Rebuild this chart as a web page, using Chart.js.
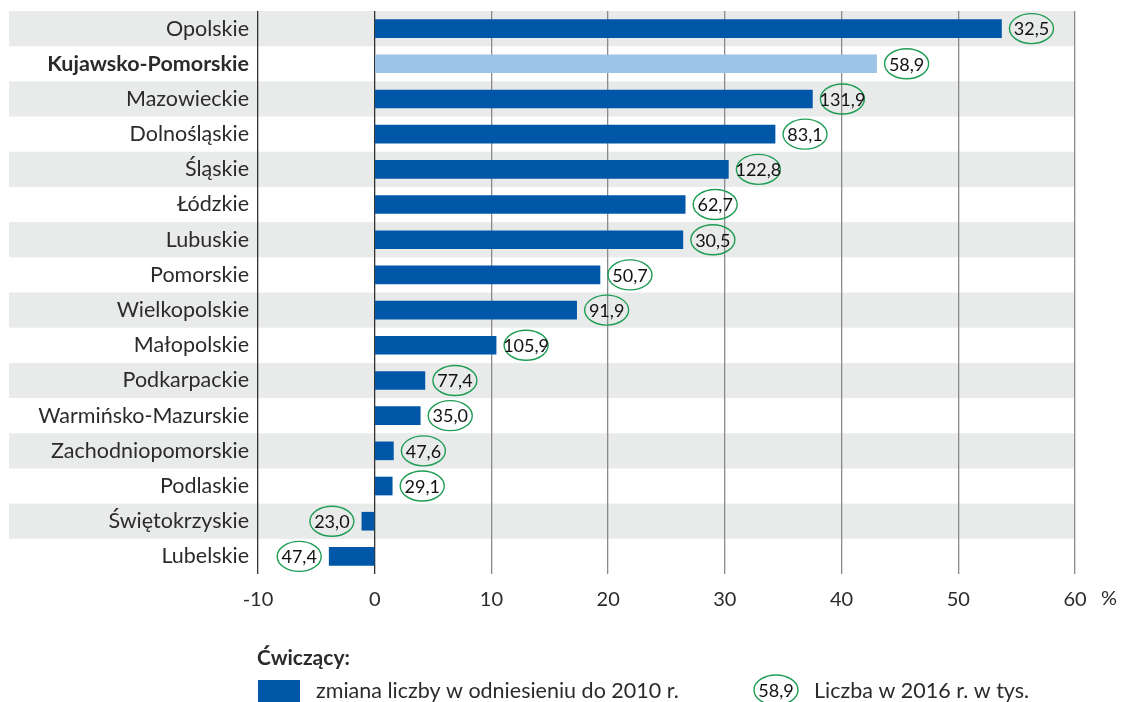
<!DOCTYPE html>
<html lang="pl">
  <head>
    <meta charset="UTF-8" />
    <title>Ćwiczący</title>
    <script src="https://cdn.jsdelivr.net/npm/chart.js"></script>
    <style>
      html, body { margin: 0; padding: 0; background: #fff; }
      #wrap { width: 1121px; height: 702px; position: relative; }
    </style>
  </head>
  <body>
    <div id="wrap"><canvas id="chart"></canvas></div>
    <script>
      const regions = [
        "Opolskie", "Kujawsko-Pomorskie", "Mazowieckie", "Dolnośląskie",
        "Śląskie", "Łódzkie", "Lubuskie", "Pomorskie", "Wielkopolskie",
        "Małopolskie", "Podkarpackie", "Warmińsko-Mazurskie",
        "Zachodniopomorskie", "Podlaskie", "Świętokrzyskie", "Lubelskie"
      ];
      const change = [
        53.7, 43.0, 37.5, 34.3, 30.3, 26.6, 26.4, 19.3, 17.3,
        10.4, 4.3, 3.9, 1.6, 1.5, -1.1, -3.9
      ];
      const count2016 = [
        "32,5", "58,9", "131,9", "83,1", "122,8", "62,7", "30,5", "50,7",
        "91,9", "105,9", "77,4", "35,0", "47,6", "29,1", "23,0", "47,4"
      ];
      const xTicks = [-10, 0, 10, 20, 30, 40, 50, 60];
      const highlight = "Kujawsko-Pomorskie";

      const FONT = "Lato, 'Open Sans', sans-serif";
      const DARK = "#0057a8";
      const LIGHT = "#9dc3e6";
      const GREEN = "#1f9d55";
      const TEXT = "#2b2b2b";

      // alternating grey bands behind the rows
      const rowBands = {
        id: "rowBands",
        beforeDraw(chart) {
          const { ctx, chartArea, scales } = chart;
          const y = scales.y;
          const step = y.getPixelForValue(1) - y.getPixelForValue(0);
          ctx.save();
          ctx.fillStyle = "#e9eaea";
          regions.forEach((r, i) => {
            if (i % 2 !== 0) return;
            const c = y.getPixelForValue(i);
            ctx.fillRect(9, c - step / 2, chartArea.right - 9, step);
          });
          ctx.restore();
        },
      };

      // green ovals with 2016 counts + legend + unit
      const extras = {
        id: "extras",
        afterDraw(chart) {
          const { ctx } = chart;
          const meta = chart.getDatasetMeta(0);
          ctx.save();
          const oval = (cx, cy, txt) => {
            ctx.beginPath();
            ctx.ellipse(cx, cy, 22, 15, 0, 0, Math.PI * 2);
            ctx.strokeStyle = GREEN;
            ctx.lineWidth = 1.4;
            ctx.stroke();
            ctx.fillStyle = "#111";
            ctx.font = "18px " + FONT;
            ctx.textAlign = "center";
            ctx.textBaseline = "middle";
            ctx.fillText(txt, cx, cy + 1);
          };
          meta.data.forEach((bar, i) => {
            const cx = change[i] >= 0 ? bar.x + 30 : bar.x - 30;
            oval(cx, bar.y, count2016[i]);
          });

          ctx.fillStyle = TEXT;
          ctx.font = "20px " + FONT;
          ctx.textAlign = "left";
          ctx.textBaseline = "middle";
          ctx.fillText("%", 1101, 599);

          ctx.font = "bold 21px " + FONT;
          ctx.fillText("Ćwiczący:", 257, 658);
          ctx.fillStyle = DARK;
          ctx.fillRect(258, 680, 42, 22);
          ctx.fillStyle = TEXT;
          ctx.font = "21.5px " + FONT;
          ctx.fillText("zmiana liczby w odniesieniu do 2010 r.", 316, 691);
          oval(776, 690, "58,9");
          ctx.fillStyle = TEXT;
          ctx.font = "21.5px " + FONT;
          ctx.textAlign = "left";
          ctx.fillText("Liczba w 2016 r. w tys.", 814, 691);
          ctx.restore();
        },
      };

      new Chart(document.getElementById("chart"), {
        type: "bar",
        data: {
          labels: regions,
          datasets: [
            {
              data: change,
              backgroundColor: regions.map((r) => (r === highlight ? LIGHT : DARK)),
              barThickness: 18,
            },
          ],
        },
        options: {
          indexAxis: "y",
          responsive: true,
          maintainAspectRatio: false,
          animation: false,
          layout: { padding: { top: 11, right: 46, left: 0, bottom: 0 } },
          plugins: {
            legend: { display: false },
            tooltip: { enabled: false },
          },
          scales: {
            x: {
              min: -10,
              max: 60,
              afterBuildTicks: (s) => {
                s.ticks = xTicks.map((v) => ({ value: v }));
              },
              afterFit: (s) => {
                s.height = 128;
              },
              border: { display: false },
              grid: {
                drawTicks: false,
                lineWidth: 1.3,
                color: (c) => (c.tick && c.tick.value <= 0 ? "#333333" : "#8a8a8a"),
              },
              ticks: {
                padding: 14,
                color: TEXT,
                font: { size: 20, family: FONT },
              },
            },
            y: {
              afterFit: (s) => {
                s.width = 258;
                s.paddingTop = 0;
                s.paddingBottom = 0;
              },
              border: { display: false },
              grid: { display: false, drawTicks: false },
              ticks: {
                padding: 9,
                color: TEXT,
                font: (c) => ({
                  size: 21.5,
                  family: FONT,
                  weight: regions[c.index] === highlight ? "bold" : "normal",
                }),
              },
            },
          },
        },
        plugins: [rowBands, extras],
      });
    </script>
  </body>
</html>
